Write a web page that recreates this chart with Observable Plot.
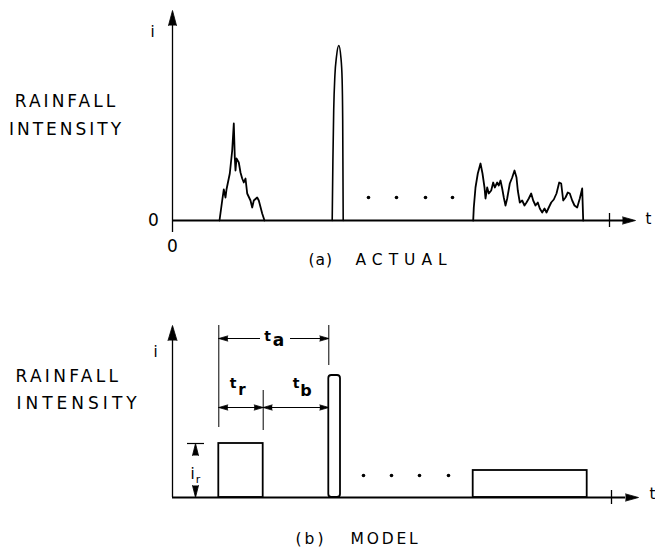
<!DOCTYPE html>
<html><head><meta charset="utf-8">
<script src="https://cdn.jsdelivr.net/npm/d3@7"></script>
<script src="https://cdn.jsdelivr.net/npm/@observablehq/plot@0.6"></script>
<style>
html,body{margin:0;padding:0;background:#fff;overflow:hidden}
#chart svg{display:block}
</style></head><body><div id="chart"></div>
<script>
// ---- Data (time t and intensity i in arbitrary units) ----
// (a) ACTUAL: three observed storms
const actualStorm1 = [[47,0],[49.7,20],[51.3,31],[53,23],[54,31],[57.3,47],[59.7,70],[61.3,97],[62.3,63],[63,50],[64,62],[66.3,58],[68,48],[69.7,42],[71.3,38],[73,42],[74.7,27],[78,20],[79.7,13],[81.3,20],[84.7,23],[86.3,20],[89.7,7],[92,0]];
const actualStorm2 = [[159.7,0],[160.4,60],[161.2,110],[162.4,145],[164,164],[166.3,175],[168.4,163],[169.6,142],[170.2,100],[170.7,0]];
const actualStorm3 = [[300.7,0],[301.3,13],[303,33],[305.3,47],[308,57],[310,47],[312,33],[313,22],[314.7,33],[316.3,27],[318.7,30],[320.7,38],[322.3,33],[324.7,38],[326.3,35],[328,40],[329.7,32],[331.3,23],[333,15],[334.7,22],[337.3,37],[339.7,43],[342,50],[344,43],[345.3,30],[347.3,18],[349.7,20],[352,15],[354,18],[356.3,22],[358.7,27],[360.7,20],[363,15],[365.3,18],[367.3,12],[369.7,8],[372,12],[374,8],[376.3,13],[378.7,18],[381.3,21],[384,27],[386.7,38],[388.7,37],[390.7,20],[393,23],[395.3,28],[397.3,27],[399.7,20],[402,15],[404.7,13],[407.3,22],[409.7,32],[410.7,0]];
const actualGapDots = [[196,23],[224,23],[253,23],[280,23]];
// (b) MODEL: rectangular pulses
const modelStart = [46.3, 156.3, 300.7];
const modelEnd = [90.7, 168, 414.7];
const modelIntensity = [54, 122, 27];
const modelGapDots = [[191,22],[219,22],[247,22],[276,22]];
// axis extents and tick
const timeMax = 463;
const topIntensityMax = 210;
const bottomIntensityMax = 172;
const timeTick = 437;

const FONT = "'DejaVu Sans', 'Liberation Sans', Arial, sans-serif";
const bursts = modelStart.map((s, k) => ({start: s, end: modelEnd[k], intensity: modelIntensity[k]}));
const px = d => d[0], py = d => d[1];

const headOpts = (length, r) => ({x: "x", y: "y", rotate: "rotate", anchor: "end", shape: "spike", length, r, fill: "black", stroke: "black", strokeWidth: 0.8});
const txt = (s, x, y, o = {}) => Plot.text([s], {x, y, text: d => d, fontSize: 17, fill: "black", ...o});

const topPlot = Plot.plot({
  width: 655, height: 280,
  marginLeft: 172, marginRight: 20, marginTop: 10, marginBottom: 60,
  x: {domain: [0, timeMax], axis: null},
  y: {domain: [0, topIntensityMax], axis: null},
  style: {fontFamily: FONT, color: "black", background: "white", overflow: "visible"},
  marks: [
    Plot.ruleX([0], {y1: -12, y2: topIntensityMax - 14, strokeWidth: 1.3}),
    Plot.ruleY([0], {x1: 0, x2: timeMax - 12, strokeWidth: 2}),
    Plot.ruleX([timeTick], {y1: -7, y2: 7, strokeWidth: 1.3}),
    Plot.vector([{x: 0, y: topIntensityMax, rotate: 0}], headOpts(15, 4)),
    Plot.vector([{x: timeMax, y: 0, rotate: 90}], headOpts(13, 3.6)),
    Plot.line(actualStorm1, {x: px, y: py, stroke: "black", strokeWidth: 1.8, strokeLinejoin: "round"}),
    Plot.line(actualStorm2, {x: px, y: py, stroke: "black", strokeWidth: 1.6, curve: "monotone-x"}),
    Plot.line(actualStorm3, {x: px, y: py, stroke: "black", strokeWidth: 1.8, strokeLinejoin: "round"}),
    Plot.dot(actualGapDots, {x: px, y: py, r: 1.8, fill: "black", stroke: "none"}),
    txt("RAINFALL", -106, 119),
    txt("INTENSITY", -106, 91),
    txt("i", -20, 188, {fontSize: 15}),
    txt("0", -19, 0, {fontSize: 17}),
    txt("0", 0, -26, {fontSize: 17}),
    txt("t", 476, 1, {fontSize: 15}),
    txt("(a)", 136, -40, {fontSize: 15.5, textAnchor: "start"}),
    txt("ACTUAL", 183, -40, {fontSize: 15.5, textAnchor: "start"})
  ]
});

const b1 = bursts[0], b2 = bursts[1];
const dimA = 159, dimRB = 90, dimI = 23;
const bottomPlot = Plot.plot({
  width: 655, height: 269,
  marginLeft: 172, marginRight: 20, marginTop: 45, marginBottom: 52,
  x: {domain: [0, timeMax], axis: null},
  y: {domain: [0, bottomIntensityMax], axis: null},
  style: {fontFamily: FONT, color: "black", background: "white", overflow: "visible"},
  marks: [
    Plot.rect(bursts.filter((d, k) => k !== 1), {x1: "start", x2: "end", y1: 0, y2: "intensity", fill: "none", stroke: "black", strokeWidth: 1.8}),
    Plot.rect([b2], {x1: "start", x2: "end", y1: 0, y2: "intensity", fill: "none", stroke: "black", strokeWidth: 1.8, rx: 3}),
    Plot.ruleX([0], {y1: 0, y2: bottomIntensityMax - 14, strokeWidth: 1.3}),
    Plot.ruleY([0], {x1: 0, x2: timeMax - 10, strokeWidth: 2}),
    Plot.ruleX([timeTick + 2], {y1: -7, y2: 7, strokeWidth: 1.3}),
    Plot.vector([{x: 0, y: bottomIntensityMax, rotate: 0}], headOpts(15, 4.5)),
    Plot.vector([{x: timeMax + 3, y: 0, rotate: 90}], headOpts(13, 3.6)),
    Plot.dot(modelGapDots, {x: px, y: py, r: 1.8, fill: "black", stroke: "none"}),
    // extension lines
    Plot.ruleX([b1.start], {y1: 70, y2: bottomIntensityMax, strokeWidth: 1}),
    Plot.ruleX([b2.start], {y1: 132, y2: bottomIntensityMax, strokeWidth: 1}),
    Plot.ruleX([b1.end], {y1: 67, y2: 107, strokeWidth: 1}),
    // t_a dimension
    Plot.ruleY([dimA], {x1: b1.start, x2: 88, strokeWidth: 1.2}),
    Plot.ruleY([dimA], {x1: 118, x2: b2.start, strokeWidth: 1.2}),
    // t_r / t_b dimension
    Plot.ruleY([dimRB], {x1: b1.start, x2: b2.start, strokeWidth: 1.2}),
    Plot.vector([
      {x: b1.start, y: dimA, rotate: -90}, {x: b2.start, y: dimA, rotate: 90},
      {x: b1.start, y: dimRB, rotate: -90}, {x: b1.end, y: dimRB, rotate: 90},
      {x: b1.end, y: dimRB, rotate: -90}, {x: b2.start, y: dimRB, rotate: 90}
    ], headOpts(9, 2.6)),
    // i_r dimension
    Plot.ruleY([b1.intensity], {x1: 15, x2: 32, strokeWidth: 1.2}),
    Plot.vector([{x: dimI, y: b1.intensity, rotate: 0}, {x: dimI, y: 0, rotate: 180}], headOpts(12, 3)),
    txt("i", 20, 23, {fontSize: 15}),
    txt("r", 25.5, 18, {fontSize: 11}),
    txt("t", 95, 161, {fontSize: 14, fontWeight: "bold"}),
    txt("a", 106, 157, {fontSize: 17, fontWeight: "bold"}),
    txt("t", 60.5, 114, {fontSize: 14, fontWeight: "bold"}),
    txt("r", 69.5, 107, {fontSize: 15, fontWeight: "bold"}),
    txt("t", 123.5, 114, {fontSize: 14, fontWeight: "bold"}),
    txt("b", 133.5, 106.5, {fontSize: 16, fontWeight: "bold"}),
    // labels
    txt("RAINFALL", -157, 120.5, {textAnchor: "start"}),
    txt("INTENSITY", -156, 93.5, {textAnchor: "start"}),
    txt("i", -17, 145, {fontSize: 15}),
    txt("t", 480, 3, {fontSize: 15}),
    txt("(b)", 123, -42, {fontSize: 15.5, textAnchor: "start"}),
    txt("MODEL", 178, -42, {fontSize: 15.5, textAnchor: "start"})
  ]
});

// letter spacing of the stencil-style lettering
function spacing(svg, map) {
  svg.querySelectorAll("text").forEach(t => {
    const s = map[t.textContent.trim()];
    if (s !== undefined) { t.setAttribute("letter-spacing", s); t.style.letterSpacing = s + "px"; }
  });
}
spacing(topPlot, {"RAINFALL": 3, "INTENSITY": 3, "(a)": 1, "ACTUAL": 6});
spacing(bottomPlot, {"RAINFALL": 3.3, "INTENSITY": 4, "(b)": 3, "MODEL": 2.8});
const chart = document.getElementById("chart");
chart.appendChild(topPlot);
chart.appendChild(bottomPlot);
</script></body></html>
